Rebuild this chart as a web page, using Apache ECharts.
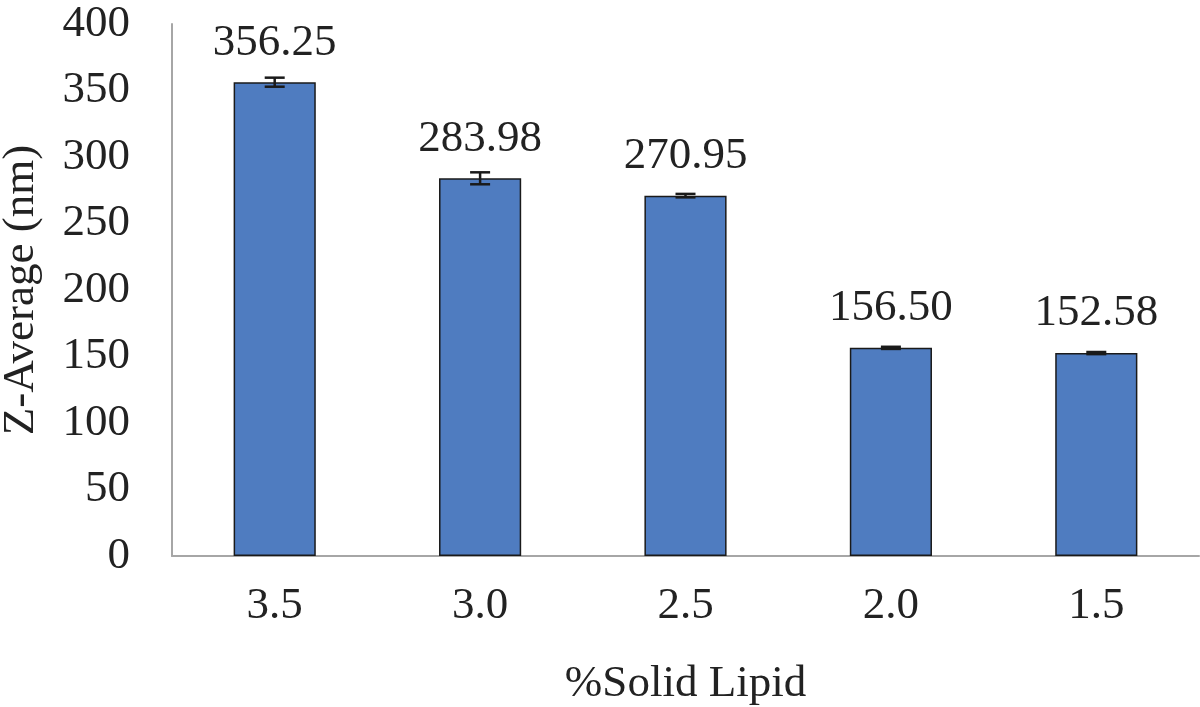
<!DOCTYPE html>
<html>
<head>
<meta charset="utf-8">
<script src="https://cdn.jsdelivr.net/npm/echarts@6/dist/echarts.min.js"></script>
<style>html,body{margin:0;padding:0;background:#fff;}#c{width:1200px;height:707px;}</style>
</head>
<body>
<div id="c"></div>
<script>
const categories = ['3.5', '3.0', '2.5', '2.0', '1.5'];
const values = [356.25, 283.98, 270.95, 156.50, 152.58];
const errors = [3.4, 4.5, 1.3, 0.8, 0.8];
const yTicks = [0, 50, 100, 150, 200, 250, 300, 350, 400];

const font = 'Times New Roman, Liberation Serif, serif';
const chart = echarts.init(document.getElementById('c'));
chart.setOption({
  animation: false,
  grid: {left: 172, right: 1, top: 24, bottom: 151, outerBoundsMode: 'none', containLabel: false},
  xAxis: {
    type: 'category', data: categories,
    name: '%Solid Lipid', nameLocation: 'middle', nameGap: 106,
    nameTextStyle: {fontFamily: font, fontSize: 45, color: '#222'},
    axisLine: {lineStyle: {color: '#a6a6a6', width: 2}},
    axisTick: {show: false},
    axisLabel: {fontFamily: font, fontSize: 45, color: '#222', margin: 28}
  },
  yAxis: {
    type: 'value', min: yTicks[0], max: yTicks[yTicks.length - 1], interval: 50,
    name: 'Z-Average (nm)', nameLocation: 'middle', nameGap: 128,
    nameTextStyle: {fontFamily: font, fontSize: 45, color: '#222'},
    axisLine: {show: true, lineStyle: {color: '#a6a6a6', width: 2}},
    axisTick: {show: false},
    splitLine: {show: false},
    axisLabel: {fontFamily: font, fontSize: 45, color: '#222', margin: 42}
  },
  series: [{
    type: 'bar', data: values, barWidth: '40%',
    itemStyle: {color: '#4f7cc0', borderColor: '#1a1a1a', borderWidth: 1.5},
    label: {show: true, position: 'top', distance: 17, fontFamily: font, fontSize: 45, color: '#222',
      formatter: p => p.value.toFixed(2)}
  }, {
    type: 'custom',
    data: values.map((v, i) => [i, v - errors[i], v + errors[i]]),
    renderItem: function (params, api) {
      const lo = api.coord([api.value(0), api.value(1)]);
      const hi = api.coord([api.value(0), api.value(2)]);
      const hw = 10;
      const st = {stroke: '#1a1a1a', lineWidth: 2.5};
      return {type: 'group', children: [
        {type: 'line', shape: {x1: lo[0], y1: lo[1], x2: hi[0], y2: hi[1]}, style: st},
        {type: 'line', shape: {x1: lo[0] - hw, y1: lo[1], x2: lo[0] + hw, y2: lo[1]}, style: st},
        {type: 'line', shape: {x1: hi[0] - hw, y1: hi[1], x2: hi[0] + hw, y2: hi[1]}, style: st}
      ]};
    },
    z: 5
  }]
});
</script>
</body>
</html>
